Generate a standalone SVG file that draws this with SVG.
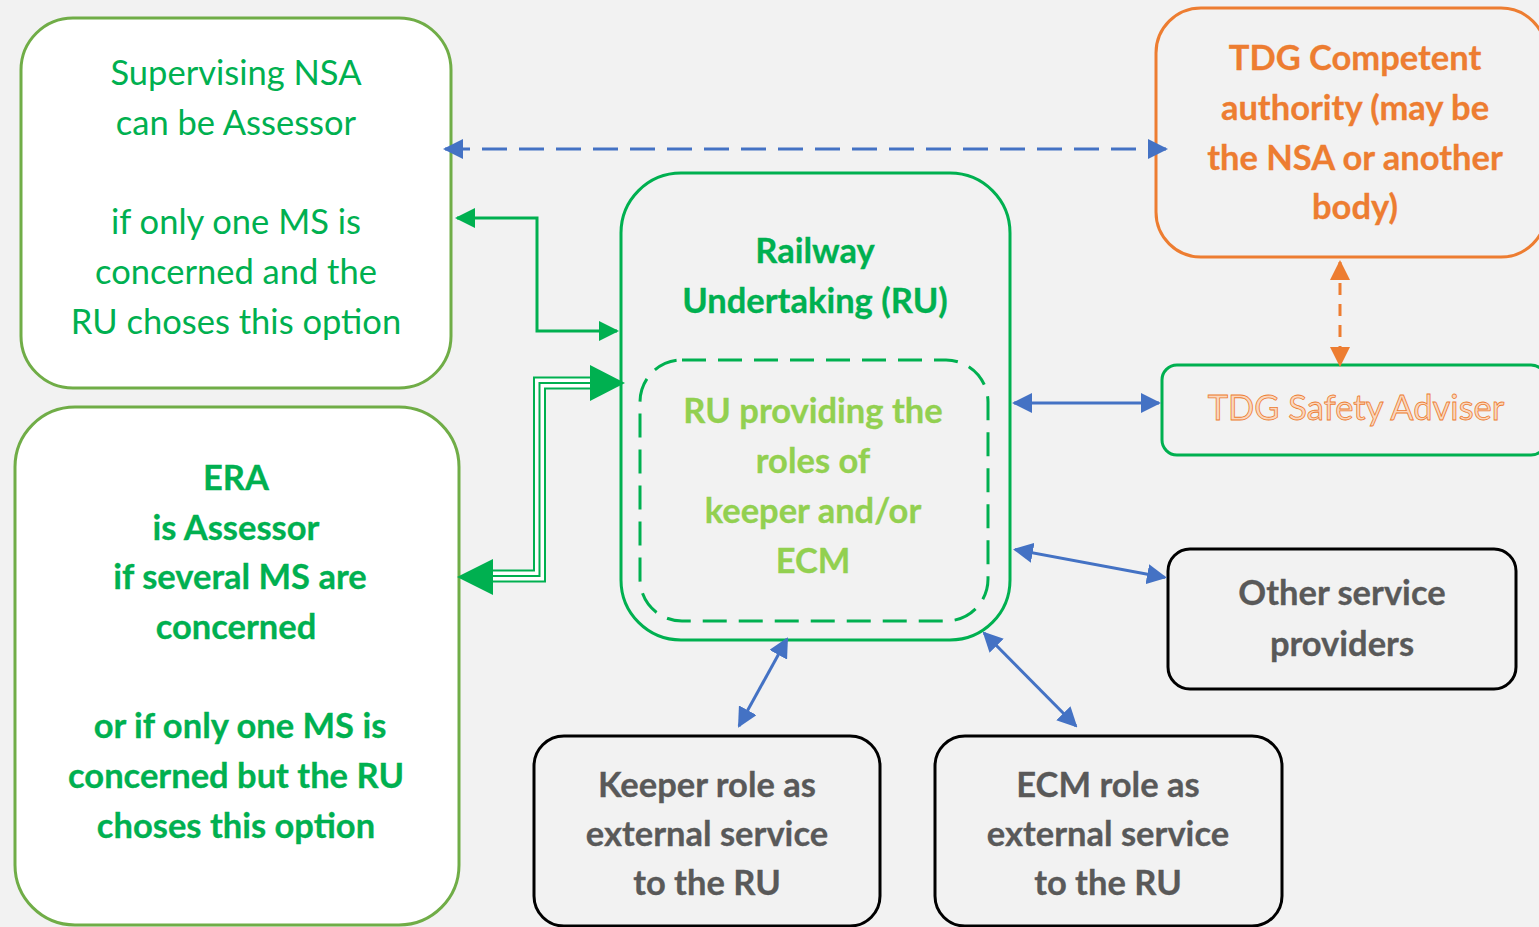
<svg xmlns="http://www.w3.org/2000/svg" width="1539" height="927" viewBox="0 0 1539 927">
<defs>
<style>
.t{font-family:Lato,"Liberation Sans",sans-serif;text-anchor:middle;font-size:34.5px}
.g{fill:#00B050}
.gb{fill:#00B050;font-weight:bold;stroke:#00B050;stroke-width:0.3}
.lg{fill:#92D050;font-weight:bold;stroke:#92D050;stroke-width:0.3}
.ob{fill:#ED7D31;font-weight:bold;stroke:#ED7D31;stroke-width:0.3}
.oh{fill:#FAD7BE;stroke:#ED7D31;stroke-width:0.8}
.gr{fill:#595959;font-weight:bold;stroke:#595959;stroke-width:0.3}
.blue{stroke:#4472C4;stroke-width:3;fill:none}
</style>
<marker id="ab" viewBox="0 0 20 20" refX="18" refY="10" markerWidth="20" markerHeight="20" markerUnits="userSpaceOnUse" orient="auto-start-reverse"><path d="M0,0 L20,10 L0,20 z" fill="#4472C4"/></marker>
<marker id="ag" viewBox="0 0 20 20" refX="18" refY="10" markerWidth="20" markerHeight="20" markerUnits="userSpaceOnUse" orient="auto-start-reverse"><path d="M0,0 L20,10 L0,20 z" fill="#00B050"/></marker>
<marker id="ao" viewBox="0 0 20 20" refX="18" refY="10" markerWidth="20" markerHeight="20" markerUnits="userSpaceOnUse" orient="auto-start-reverse"><path d="M0,0 L20,10 L0,20 z" fill="#ED7D31"/></marker>
</defs>
<rect x="0" y="0" width="1539" height="927" fill="#F2F2F2"/>

<g id="nsa">
<rect x="21" y="18" width="430" height="370" rx="52" fill="#FFFFFF" stroke="#70AD47" stroke-width="3"/>
<text class="t g" x="236" y="85">Supervising NSA</text>
<text class="t g" x="236" y="135">can be Assessor</text>
<text class="t g" x="236" y="234">if only one MS is</text>
<text class="t g" x="236" y="284">concerned and the</text>
<text class="t g" x="236" y="334">RU choses this option</text>
</g>

<g id="era">
<rect x="15" y="407" width="444" height="518" rx="60" fill="#FFFFFF" stroke="#70AD47" stroke-width="3"/>
<text class="t gb" x="236" y="490">ERA</text>
<text class="t gb" x="236" y="540">is Assessor</text>
<text class="t gb" x="240" y="589">if several MS are</text>
<text class="t gb" x="236" y="639">concerned</text>
<text class="t gb" x="240" y="738">or if only one MS is</text>
<text class="t gb" x="236" y="788">concerned but the RU</text>
<text class="t gb" x="236" y="838">choses this option</text>
</g>

<g id="ru">
<rect x="621" y="173" width="389" height="467" rx="60" fill="none" stroke="#00B050" stroke-width="3"/>
<text class="t gb" x="815" y="263">Railway</text>
<text class="t gb" x="815" y="313">Undertaking (RU)</text>
</g>

<g id="ru-roles">
<rect x="640" y="360" width="348" height="261" rx="42" fill="none" stroke="#00B050" stroke-width="3" stroke-dasharray="24 12"/>
<text class="t lg" x="813" y="423">RU providing the</text>
<text class="t lg" x="813" y="473">roles of</text>
<text class="t lg" x="813" y="523">keeper and/or</text>
<text class="t lg" x="813" y="573">ECM</text>
</g>

<g id="tdg-ca">
<rect x="1156" y="8" width="390" height="249" rx="45" fill="none" stroke="#ED7D31" stroke-width="3"/>
<text class="t ob" x="1355" y="70">TDG Competent</text>
<text class="t ob" x="1355" y="120">authority (may be</text>
<text class="t ob" x="1355" y="170">the NSA or another</text>
<text class="t ob" x="1355" y="219">body)</text>
</g>

<g id="tdg-sa">
<rect x="1162" y="365" width="384" height="90" rx="15" fill="none" stroke="#00B050" stroke-width="3"/>
<text class="t oh" x="1356" y="420">TDG Safety Adviser</text>
</g>

<g id="other">
<rect x="1168" y="549" width="348" height="140" rx="22" fill="none" stroke="#000000" stroke-width="3"/>
<text class="t gr" x="1342" y="605">Other service</text>
<text class="t gr" x="1342" y="656">providers</text>
</g>

<g id="keeper">
<rect x="534" y="736" width="346" height="190" rx="30" fill="none" stroke="#000000" stroke-width="3"/>
<text class="t gr" x="707" y="797">Keeper role as</text>
<text class="t gr" x="707" y="846">external service</text>
<text class="t gr" x="707" y="895">to the RU</text>
</g>

<g id="ecm">
<rect x="935" y="736" width="347" height="190" rx="30" fill="none" stroke="#000000" stroke-width="3"/>
<text class="t gr" x="1108" y="797">ECM role as</text>
<text class="t gr" x="1108" y="846">external service</text>
<text class="t gr" x="1108" y="895">to the RU</text>
</g>

<g id="connectors">
<line class="blue" x1="445" y1="149" x2="1166" y2="149" stroke-dasharray="25 12" marker-start="url(#ab)" marker-end="url(#ab)"/>
<polyline points="457,218 537,218 537,331 617,331" fill="none" stroke="#00B050" stroke-width="3" marker-start="url(#ag)" marker-end="url(#ag)"/>
<polyline points="493,576 539.5,576 539.5,383 591,383" fill="none" stroke="#00B050" stroke-width="13"/>
<polyline points="492,576 539.5,576 539.5,383 592,383" fill="none" stroke="#FFFFFF" stroke-width="9"/>
<polyline points="492,576 539.5,576 539.5,383 592,383" fill="none" stroke="#00B050" stroke-width="2"/>
<polygon points="625,383 590,365 590,401" fill="#00B050"/>
<polygon points="457,577 493,559 493,595" fill="#00B050"/>
<line x1="1340" y1="262" x2="1340" y2="365" stroke="#ED7D31" stroke-width="3" stroke-dasharray="12 9" marker-start="url(#ao)" marker-end="url(#ao)"/>
<line class="blue" x1="1014" y1="403" x2="1159" y2="403" marker-start="url(#ab)" marker-end="url(#ab)"/>
<line class="blue" x1="1015" y1="549.5" x2="1165" y2="577.5" marker-start="url(#ab)" marker-end="url(#ab)"/>
<line class="blue" x1="787" y1="639" x2="739" y2="726" marker-start="url(#ab)" marker-end="url(#ab)"/>
<line class="blue" x1="984" y1="633" x2="1076" y2="726" marker-start="url(#ab)" marker-end="url(#ab)"/>
</g>
</svg>
